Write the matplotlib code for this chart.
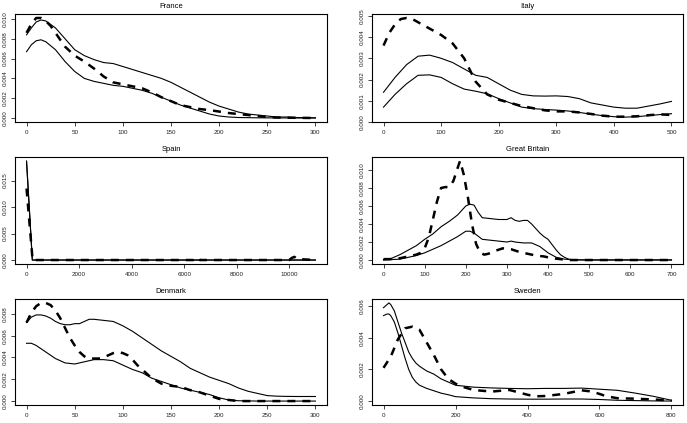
"""Six small density panels: two solid bands and one dashed estimate per country."""

import matplotlib

matplotlib.use("Agg")
import matplotlib.pyplot as plt
import numpy as np

# France
fr_up_x = [0, 5, 10, 15, 20, 30, 40, 50, 60, 70, 80, 90, 100, 110, 120, 130, 140, 150,
           160, 170, 180, 190, 200, 210, 220, 230, 240, 250, 260, 270, 280, 290, 300]
fr_up_y = [0.0084, 0.0091, 0.0097, 0.0099, 0.0098, 0.0091, 0.0080, 0.0069, 0.0063, 0.0059,
           0.0056, 0.0055, 0.0052, 0.0049, 0.0046, 0.0043, 0.0040, 0.0036, 0.0031, 0.0026,
           0.0021, 0.0016, 0.0012, 0.0009, 0.0006, 0.0004, 0.0003, 0.0002, 0.0001, 0.0001,
           0.00005, 0.00003, 0.00002]
fr_lo_x = [0, 5, 10, 15, 20, 30, 40, 50, 60, 70, 80, 90, 100, 110, 120, 130, 140, 150,
           160, 170, 180, 190, 200, 210, 220, 240, 260, 280, 300]
fr_lo_y = [0.0067, 0.0074, 0.0078, 0.0079, 0.0077, 0.0069, 0.0057, 0.0047, 0.0040, 0.0037,
           0.0035, 0.0033, 0.0032, 0.0030, 0.0028, 0.0025, 0.0021, 0.0017, 0.0013, 0.0010,
           0.0007, 0.0004, 0.0002, 0.0001, 0.00005, 0.00002, 0.00001, 0.0, 0.0]
fr_est_x = [0, 5, 10, 15, 20, 25, 30, 40, 50, 60, 70, 80, 90, 100, 110, 120, 130, 140,
            150, 160, 170, 180, 190, 200, 210, 220, 230, 240, 250, 260, 280, 300]
fr_est_y = [0.0086, 0.0095, 0.0101, 0.0101, 0.0098, 0.0093, 0.0086, 0.0072, 0.0063, 0.0057,
            0.0050, 0.0042, 0.0036, 0.0034, 0.0032, 0.0030, 0.0026, 0.0021, 0.0017, 0.0013,
            0.0011, 0.0009, 0.0008, 0.00065, 0.0005, 0.0004, 0.0003, 0.0002, 0.0001, 0.00005,
            0.00002, 0.0]

# Italy
it_up_x = [0, 20, 40, 60, 80, 100, 120, 140, 160, 180, 200, 220, 240, 260, 280, 300,
           320, 340, 360, 380, 400, 420, 440, 460, 480, 500]
it_up_y = [0.0014, 0.0021, 0.0027, 0.0031, 0.00315, 0.0030, 0.0028, 0.0025, 0.0022, 0.0021,
           0.0018, 0.0015, 0.0013, 0.00123, 0.00122, 0.00123, 0.0012, 0.0011, 0.0009, 0.0008,
           0.0007, 0.00065, 0.00065, 0.00075, 0.00085, 0.00097]
it_lo_x = [0, 20, 40, 60, 80, 100, 120, 140, 160, 180, 200, 220, 240, 260, 280, 300,
           320, 340, 360, 380, 400, 420, 440, 460, 480, 500]
it_lo_y = [0.0007, 0.0013, 0.0018, 0.0022, 0.00222, 0.0021, 0.0018, 0.00155, 0.00145,
           0.00133, 0.0011, 0.0009, 0.0007, 0.00063, 0.00059, 0.00056, 0.00052, 0.00045,
           0.00037, 0.0003, 0.00025, 0.00023, 0.00025, 0.0003, 0.00035, 0.00039]
it_est_x = [0, 10, 20, 30, 40, 50, 60, 80, 100, 120, 140, 160, 180, 200, 220, 240, 260,
            280, 300, 320, 340, 360, 380, 400, 420, 440, 460, 480, 500]
it_est_y = [0.0036, 0.0042, 0.0046, 0.00485, 0.0049, 0.00485, 0.0047, 0.0044, 0.0041,
            0.0037, 0.0030, 0.0019, 0.0013, 0.00105, 0.0009, 0.00075, 0.00065, 0.00055,
            0.0005, 0.0005, 0.00045, 0.00038, 0.0003, 0.00025, 0.00025, 0.00027, 0.00032,
            0.00036, 0.00033]

# Spain
es_up_x = [0, 220, 11000]
es_up_y = [0.0187, 0.0, 0.0]
es_lo_x = [0, 220, 11000]
es_lo_y = [0.0185, 0.0, 0.0]
es_est_x = [0, 230, 6350, 6500, 6600, 10000, 10100, 10200, 10300, 11000]
es_est_y = [0.0135, 0.0, 0.0, 0.0005, 0.0, 0.0, 0.0004, 0.0006, 0.0002, 0.0]

# Great Britain
gb_up_x = [0, 20, 40, 60, 80, 100, 120, 140, 160, 180, 200, 210, 220, 230, 240, 260, 280,
           300, 310, 320, 330, 340, 350, 360, 370, 380, 390, 400, 410, 420, 430, 440, 450,
           460, 500, 600, 700]
gb_up_y = [0.00005, 0.0002, 0.0006, 0.0011, 0.0016, 0.0023, 0.0029, 0.0037, 0.0043, 0.0050,
           0.0060, 0.0062, 0.0061, 0.0053, 0.0047, 0.0046, 0.0045, 0.0045, 0.0047, 0.0044,
           0.0043, 0.0044, 0.0044, 0.0040, 0.0035, 0.0030, 0.0026, 0.0023, 0.0017, 0.0011,
           0.0006, 0.0003, 0.0001, 0.00003, 0.00002, 0.00002, 0.00002]
gb_lo_x = [0, 20, 40, 60, 80, 100, 120, 140, 160, 180, 200, 210, 220, 240, 260, 280, 300,
           310, 320, 340, 360, 380, 400, 420, 440, 460, 500, 600, 700]
gb_lo_y = [0.0, 0.00005, 0.0001, 0.0003, 0.0005, 0.0008, 0.0012, 0.0016, 0.0021, 0.0026,
           0.0032, 0.0032, 0.0030, 0.0023, 0.0022, 0.0021, 0.0020, 0.0021, 0.0020, 0.0019,
           0.0019, 0.0015, 0.0008, 0.0003, 0.0001, 0.00002, 0.0, 0.0, 0.0]
gb_est_x = [0, 20, 40, 60, 70, 80, 90, 100, 110, 120, 130, 140, 150, 160, 170, 180, 186,
            195, 205, 215, 225, 235, 245, 255, 270, 290, 310, 330, 350, 370, 390, 410, 430,
            450, 500, 550, 600, 650, 700]
gb_est_y = [0.0001, 0.0001, 0.0002, 0.0004, 0.0005, 0.0006, 0.0008, 0.0013, 0.0025, 0.0045,
            0.0065, 0.0080, 0.0081, 0.0081, 0.0088, 0.0102, 0.0110, 0.0095, 0.0070, 0.0040,
            0.0018, 0.0008, 0.0006, 0.0007, 0.0010, 0.0013, 0.0012, 0.0009, 0.0007, 0.0005,
            0.0004, 0.0002, 0.0001, 0.0, 0.0, 0.0, 0.0, 0.0, 0.0]

# Denmark
dk_up_x = [0, 5, 10, 15, 20, 25, 30, 35, 40, 45, 50, 55, 60, 65, 70, 80, 90, 100, 110, 120,
           130, 140, 150, 160, 170, 180, 190, 200, 210, 220, 230, 240, 250, 260, 270, 280,
           290, 300]
dk_up_y = [0.0072, 0.0077, 0.0079, 0.0079, 0.0078, 0.0076, 0.0073, 0.0071, 0.0070, 0.0070,
           0.0071, 0.0071, 0.0073, 0.0075, 0.0075, 0.0074, 0.0073, 0.0069, 0.0064, 0.0058,
           0.0052, 0.0046, 0.0041, 0.0036, 0.0030, 0.0026, 0.0022, 0.0019, 0.0016, 0.0012,
           0.0009, 0.0007, 0.0005, 0.00045, 0.00043, 0.00042, 0.00042, 0.00042]
dk_lo_x = [0, 5, 10, 20, 30, 40, 50, 60, 70, 80, 90, 100, 110, 120, 130, 140, 150, 160,
           170, 180, 190, 200, 210, 220, 240, 260, 280, 300]
dk_lo_y = [0.0053, 0.0053, 0.0051, 0.0045, 0.0039, 0.0035, 0.0034, 0.0036, 0.0038, 0.0038,
           0.0037, 0.0033, 0.0029, 0.0026, 0.0021, 0.0018, 0.0015, 0.0012, 0.0010, 0.0008,
           0.0006, 0.0003, 0.0001, 0.00003, 0.0, 0.0, 0.0, 0.0]
dk_est_x = [0, 5, 10, 15, 20, 25, 30, 35, 40, 45, 50, 55, 60, 65, 70, 75, 80, 85, 90, 95,
            100, 105, 110, 115, 120, 125, 130, 140, 150, 160, 170, 180, 190, 200, 210, 220,
            300]
dk_est_y = [0.0072, 0.0081, 0.0087, 0.0090, 0.0090, 0.0088, 0.0083, 0.0076, 0.0067, 0.0058,
            0.0051, 0.0045, 0.0041, 0.0039, 0.0039, 0.0039, 0.0040, 0.0042, 0.0044, 0.0045,
            0.0044, 0.0042, 0.0038, 0.0033, 0.0029, 0.0025, 0.0021, 0.0016, 0.0014, 0.0013,
            0.0010, 0.0008, 0.0005, 0.0002, 0.0001, 0.0, 0.0]

# Sweden
se_x = [0, 10, 15, 20, 30, 40, 50, 60, 70, 80, 90, 100, 120, 140, 160, 180, 200, 250, 300,
        350, 400, 450, 500, 550, 600, 650, 700, 750, 800]
se_up_y = [0.0059, 0.0061, 0.0062, 0.0061, 0.0057, 0.0050, 0.0043, 0.0037, 0.0031, 0.0027,
           0.0024, 0.0022, 0.0019, 0.0017, 0.0014, 0.0012, 0.0010, 0.00088, 0.00083, 0.0008,
           0.00078, 0.0008, 0.0008, 0.00082, 0.00075, 0.00068, 0.0005, 0.0003, 0.00005]
se_lo_y = [0.0054, 0.0055, 0.0055, 0.0054, 0.0050, 0.0043, 0.0035, 0.0027, 0.0020, 0.0015,
           0.0012, 0.0010, 0.0008, 0.00065, 0.0005, 0.0004, 0.00028, 0.0002, 0.00015,
           0.00013, 0.00012, 0.00012, 0.00013, 0.00013, 0.0001, 0.00005, 0.00003, 0.00001,
           0.0]
se_est_x = [0, 20, 40, 60, 80, 100, 120, 140, 160, 180, 200, 220, 250, 300, 350, 400, 420,
            450, 500, 550, 580, 620, 650, 700, 750, 800]
se_est_y = [0.0021, 0.0028, 0.0039, 0.0046, 0.0047, 0.0045, 0.0037, 0.0029, 0.0020, 0.0014,
            0.0011, 0.0009, 0.0007, 0.0006, 0.0007, 0.0004, 0.0003, 0.00032, 0.00045,
            0.00068, 0.0006, 0.0003, 0.00018, 0.00015, 0.0001, 0.00004]

titles = ["France", "Italy", "Spain", "Great Britain", "Denmark", "Sweden"]
x_ticks = [
    np.arange(0, 301, 50),
    np.arange(0, 501, 100),
    np.arange(0, 10001, 2000),
    np.arange(0, 701, 100),
    np.arange(0, 301, 50),
    np.arange(0, 801, 200),
]
y_ticks = [
    np.arange(0, 0.0101, 0.002),
    np.arange(0, 0.00501, 0.001),
    np.arange(0, 0.01501, 0.005),
    np.arange(0, 0.0101, 0.002),
    np.arange(0, 0.0081, 0.002),
    np.arange(0, 0.0061, 0.002),
]
panels = [
    ((fr_up_x, fr_up_y), (fr_lo_x, fr_lo_y), (fr_est_x, fr_est_y)),
    ((it_up_x, it_up_y), (it_lo_x, it_lo_y), (it_est_x, it_est_y)),
    ((es_up_x, es_up_y), (es_lo_x, es_lo_y), (es_est_x, es_est_y)),
    ((gb_up_x, gb_up_y), (gb_lo_x, gb_lo_y), (gb_est_x, gb_est_y)),
    ((dk_up_x, dk_up_y), (dk_lo_x, dk_lo_y), (dk_est_x, dk_est_y)),
    ((se_x, se_up_y), (se_x, se_lo_y), (se_est_x, se_est_y)),
]

W, H = 687, 423
cols = [(15, 327), (372, 683)]
rows = [(14, 122), (157, 264), (299, 405)]

plt.rcParams["font.family"] = "Liberation Sans"
fig = plt.figure(figsize=(W / 100, H / 100), dpi=100)

for i, (title, (up, lo, est)) in enumerate(zip(titles, panels)):
    (x0, x1), (y0, y1) = cols[i % 2], rows[i // 2]
    ax = fig.add_axes([x0 / W, 1 - y1 / H, (x1 - x0) / W, (y1 - y0) / H])

    ax.plot(up[0], up[1], color="black", lw=0.8)
    ax.plot(lo[0], lo[1], color="black", lw=0.8)
    ax.plot(est[0], est[1], color="black", lw=1.8, dashes=(3.2, 2.8))

    # R-style 4% padding around the data range
    all_x = np.concatenate([up[0], lo[0], est[0]])
    all_y = np.concatenate([up[1], lo[1], est[1]])
    xr = all_x.max() - all_x.min()
    yr = all_y.max() - all_y.min()
    ax.set_xlim(all_x.min() - 0.04 * xr, all_x.max() + 0.04 * xr)
    ax.set_ylim(all_y.min() - 0.04 * yr, all_y.max() + 0.04 * yr)

    ax.set_xticks(x_ticks[i])
    ax.set_xticklabels([str(int(v)) for v in x_ticks[i]])
    ax.set_yticks(y_ticks[i])
    ax.set_yticklabels([f"{v:.3f}" for v in y_ticks[i]], rotation=90, va="center")
    ax.tick_params(labelsize=4.5, length=3, width=0.6, pad=2.5, colors="#222222")

    for spine in ax.spines.values():
        spine.set_linewidth(0.8)
    ax.set_title(title, fontsize=5.5, pad=4.5)

fig.savefig("out.png", dpi=100)
